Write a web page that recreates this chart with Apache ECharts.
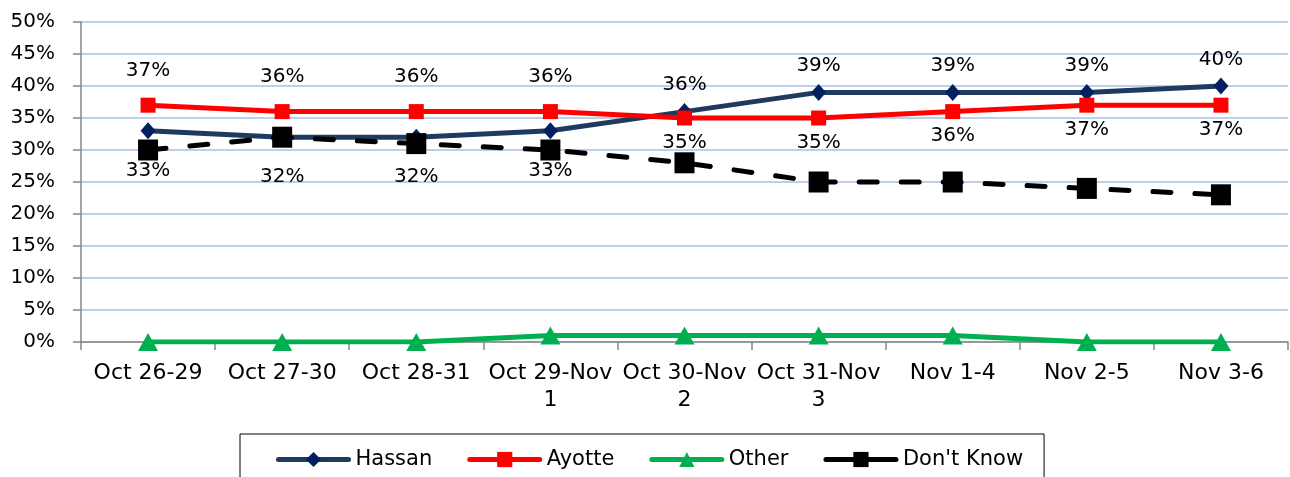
<!DOCTYPE html>
<html lang="en">
<head>
    <meta charset="UTF-8">
    <title>Hassan vs Ayotte tracking</title>
    <script src="https://cdn.jsdelivr.net/npm/echarts/dist/echarts.min.js"></script>
</head>
<body style="margin:0">
<div id="main" style="width: 1290px;height:477px;"></div>

<script type="text/javascript">
    // 数据
    var categories = ['Oct 26-29', 'Oct 27-30', 'Oct 28-31', 'Oct 29-Nov 1', 'Oct 30-Nov 2',
        'Oct 31-Nov 3', 'Nov 1-4', 'Nov 2-5', 'Nov 3-6'];
    var hassan = [33, 32, 32, 33, 36, 39, 39, 39, 40];
    var ayotte = [37, 36, 36, 36, 35, 35, 36, 37, 37];
    var other = [0, 0, 0, 1, 1, 1, 1, 0, 0];
    var dontKnow = [30, 32, 31, 30, 28, 25, 25, 24, 23];
    var yTicks = [0, 5, 10, 15, 20, 25, 30, 35, 40, 45, 50];

    var font = 'DejaVu Sans';

    // 标签: 高的在上, 低的在下
    function withLabels(vals, others, upDist, downDist) {
        return vals.map(function (v, i) {
            var up = v > others[i];
            return {
                value: v,
                label: { position: up ? 'top' : 'bottom', distance: up ? upDist : downDist }
            };
        });
    }

    var myChart = echarts.init(document.getElementById('main'));

    myChart.setOption({
        animation: false,
        grid: { left: 81, right: 2, top: 22, bottom: 135 },
        legend: {
            left: 240,
            top: 434,
            padding: [15, 21, 30, 36],
            borderColor: '#000',
            borderWidth: 1,
            itemGap: 35,
            itemWidth: 70,
            itemHeight: 19,
            lineStyle: { width: 5, type: 'solid', cap: 'round' },
            textStyle: { fontFamily: font, fontSize: 21, color: '#000', padding: [0, 0, 0, 2] },
            data: ['Hassan', 'Ayotte', 'Other', "Don't Know"]
        },
        xAxis: {
            type: 'category',
            data: categories,
            axisLine: { lineStyle: { color: '#868686', width: 1.5 } },
            axisTick: { show: true, length: 8, lineStyle: { color: '#868686', width: 1.5 } },
            axisLabel: {
                fontFamily: font, fontSize: 22, color: '#000', margin: 18, lineHeight: 27,
                interval: 0,
                formatter: function (v) { return v.replace('-Nov ', '-Nov\n'); }
            }
        },
        yAxis: {
            type: 'value',
            min: yTicks[0],
            max: yTicks[yTicks.length - 1],
            interval: 5,
            axisLine: { show: true, lineStyle: { color: '#868686', width: 1.5 } },
            axisTick: { show: true, length: 8, lineStyle: { color: '#868686', width: 1.5 } },
            splitLine: { lineStyle: { color: '#A7BFE4', width: 1.5 } },
            axisLabel: {
                fontFamily: font, fontSize: 20, color: '#000', margin: 26,
                formatter: '{value}%'
            }
        },
        series: [
            {
                name: 'Hassan',
                type: 'line',
                data: withLabels(hassan, ayotte, 8, 21),
                symbol: 'diamond',
                symbolSize: [15, 17],
                lineStyle: { color: '#1F3A5F', width: 5 },
                itemStyle: { color: '#002060' },
                label: {
                    show: true, fontFamily: font, fontSize: 20, color: '#000',
                    formatter: '{c}%'
                }
            },
            {
                name: 'Ayotte',
                type: 'line',
                data: withLabels(ayotte, hassan, 17, 7),
                symbol: 'rect',
                symbolSize: 15,
                lineStyle: { color: '#FF0000', width: 5 },
                itemStyle: { color: '#FF0000' },
                label: {
                    show: true, fontFamily: font, fontSize: 20, color: '#000',
                    formatter: '{c}%'
                }
            },
            {
                name: 'Other',
                type: 'line',
                data: other,
                symbol: 'triangle',
                symbolSize: [20, 18],
                lineStyle: { color: '#00B050', width: 5 },
                itemStyle: { color: '#00B050' }
            },
            {
                name: "Don't Know",
                type: 'line',
                data: dontKnow,
                symbol: 'rect',
                symbolSize: [20, 21],
                lineStyle: { color: '#000', width: 5, type: [18, 24], cap: 'round' },
                itemStyle: { color: '#000' }
            }
        ]
    });
</script>
</body>
</html>
